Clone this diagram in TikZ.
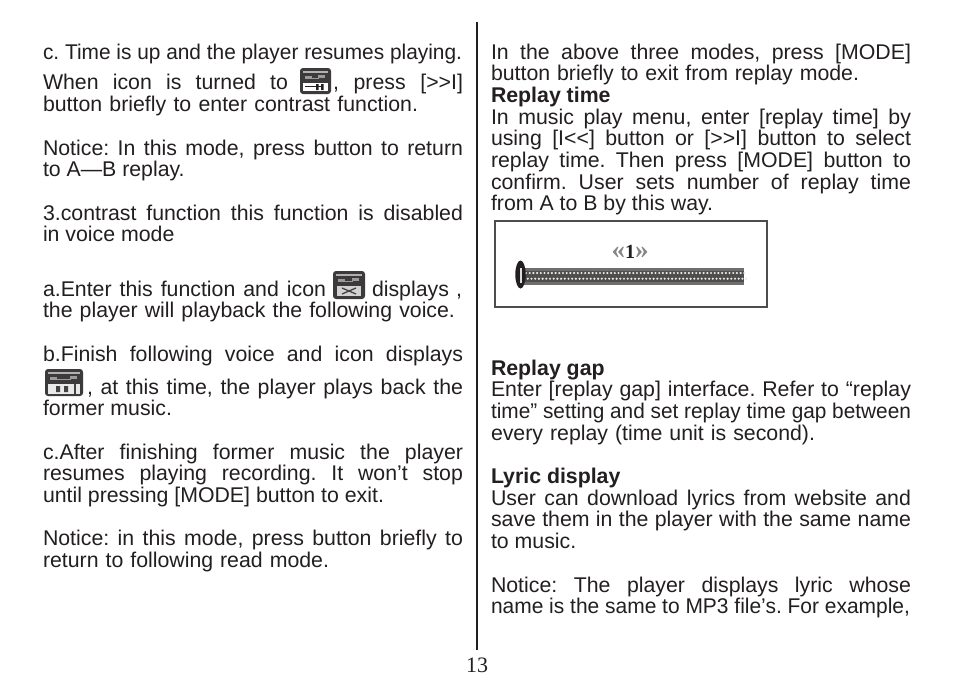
\documentclass[tikz,border=0pt]{standalone}
\usepackage{fontspec}
\usepackage{graphicx}
\setmainfont{Liberation Sans}
\newfontfamily\serifnum{Liberation Serif}
\definecolor{ink}{HTML}{231F20}
\newcounter{tl}
\newcommand{\bodyfont}{\fontsize{21.3}{21.3}\selectfont\frenchspacing}
\newcommand{\pgtext}[3]{\stepcounter{tl}\node[txt] (t\arabic{tl}) at (#1,#2) {#3};}
\newcommand{\pgjust}[4]{\stepcounter{tl}%
    \node[txt] (t\arabic{tl}) at (#1,#2) {\spaceskip=.278em plus 1em\relax\makebox[#3pt][s]{#4}};}
\newcommand{\pgfit}[4]{\stepcounter{tl}%
    \node[txt] (t\arabic{tl}) at (#1,#2) {\resizebox{#3pt}{\height}{#4}};}
\newcommand{\iconbase}[4]{% x y w h
  \fill[ink!88,rounded corners=3pt] (#1,#2) rectangle ++(#3,#4);
  \fill[white!65!ink] ({#1+3},{#2+3}) rectangle ++({#3-6},1.6);
  \fill[white!55!ink] ({#1+5},{#2+8}) rectangle ++(7,2.5);
  \fill[white!55!ink] ({#1+#3-13},{#2+7}) rectangle ++(7,3);
  \fill[white!55!ink] ({#1+12},{#2+9.5}) rectangle ++({#3-24},1);
}
\tikzset{x=1pt,y=-1pt,
  txt/.style={anchor=base west,inner sep=0pt,outer sep=0pt,font=\bodyfont,text=ink}}
\begin{document}
\begin{tikzpicture}
\useasboundingbox (0,0) rectangle (954,694);
\fill[white] (0,0) rectangle (954,694);
% left column
\pgfit{43}{59}{419}{c. Time is up and the player resumes playing.}
\pgjust{43}{89}{245}{When icon is turned to}
\pgjust{333}{89}{130}{, press [>{}>I]}
\pgjust{43}{111}{375}{button briefly to enter contrast function.}
\pgjust{43}{155}{420}{Notice: In this mode, press button to return}
\pgtext{43}{176}{to A—B replay.}
\pgjust{43}{220}{420}{3.contrast function this function is disabled}
\pgtext{43}{241}{in voice mode}
\pgjust{43}{296}{283}{a.Enter this function and icon}
\pgjust{372}{296}{90}{displays ,}
\pgjust{43}{317}{412}{the player will playback the following voice.}
\pgjust{43}{361}{420}{b.Finish following voice and icon displays}
\pgjust{87}{394}{376}{, at this time, the player plays back the}
\pgtext{43}{415}{former music.}
\pgjust{43}{459}{420}{c.After finishing former music the player}
\pgjust{43}{480}{420}{resumes playing recording. It won’t stop}
\pgtext{43}{502}{until pressing [MODE] button to exit.}
\pgjust{43}{545}{420}{Notice: in this mode, press button briefly to}
\pgjust{43}{567}{286}{return to following read mode.}
% right column
\pgjust{491}{59}{420}{In the above three modes, press [MODE]}
\pgjust{491}{80}{368}{button briefly to exit from replay mode.}
\pgtext{491}{102}{\bfseries Replay time}
\pgjust{491}{124}{420}{In music play menu, enter [replay time] by}
\pgjust{491}{145}{420}{using [I<{}<] button or [>{}>I] button to select}
\pgjust{491}{167}{420}{replay time. Then press [MODE] button to}
\pgjust{491}{189}{420}{confirm. User sets number of replay time}
\pgtext{491}{210}{from A to B by this way.}
\pgtext{491}{375}{\bfseries Replay gap}
\pgjust{491}{396}{420}{Enter [replay gap] interface. Refer to “replay}
\pgfit{491}{418}{420}{time” setting and set replay time gap between}
\pgjust{491}{440}{324}{every replay (time unit is second).}
\pgtext{491}{483}{\bfseries Lyric display}
\pgjust{491}{505}{420}{User can download lyrics from website and}
\pgjust{491}{526}{420}{save them in the player with the same name}
\pgtext{491}{548}{to music.}
\pgjust{491}{592}{420}{Notice: The player displays lyric whose}
\pgfit{491}{613}{419}{name is the same to MP3 file’s. For example,}
% divider and page number
\draw[ink,line width=1.6pt] (477,22) -- (477,650);
\node[txt,font=\fontsize{22}{22}\serifnum,anchor=base] (pageno) at (477,672) {13};
% icon 1
\iconbase{300}{68}{31}{26}
\fill[white] (303,83) rectangle (328,91);
\draw[ink,line width=1.2pt] (305,86.5) -- (322,86.5);
\fill[ink] (316,84) rectangle (318.5,90) (321,84) rectangle (323.5,90);
% icon 2
\iconbase{333}{271}{32}{28}
\fill[white!80!ink] (337,286) rectangle (361,296);
\draw[ink!85,line width=1.3pt] (342,288) -- (356,294) (342,294) -- (356,288);
% icon 3
\iconbase{45}{369}{38}{27}
\fill[white!90!ink] (48,384) rectangle (80,394);
\fill[ink!85] (56,386) rectangle (60,392) (64,386) rectangle (68,392);
\fill[ink!85] (74,384) rectangle (76,394);
% picture
\draw[ink!80,line width=1.7pt] (495,221) rectangle (767,307);
\node[font=\fontsize{24}{24}\serifnum\bfseries,text=ink,inner sep=0pt] (rep) at (630,252) {\textcolor{ink!55}{\fontsize{27}{27}\selectfont«}\fontsize{20}{20}\selectfont 1\textcolor{ink!55}{\fontsize{27}{27}\selectfont»}};
\fill[ink!65] (523,267.5) rectangle (744,284.5);
\fill[ink!80] (523,270.5) rectangle (744,281.5);
\foreach \i in {0,...,59}{
  \fill[white!90!ink] ({526+\i*3.7},273) circle (1.2pt);
  \fill[white!90!ink] ({527.8+\i*3.7},278.7) circle (1.2pt);
}
\fill[ink] (520,260) ellipse (0pt and 0pt);
\fill[ink] (520.5,274.5) ellipse (5.2pt and 14pt);
\fill[white!85!ink] (520.3,268) rectangle (521.8,283);
\end{tikzpicture}
\end{document}
